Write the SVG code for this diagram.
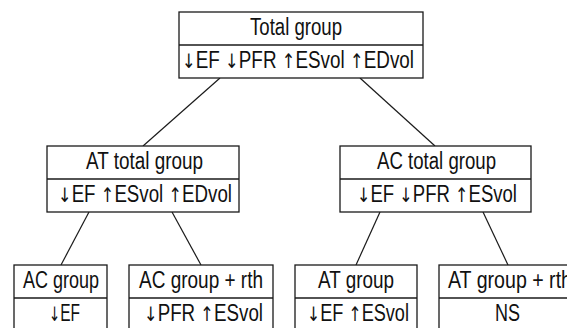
<svg xmlns="http://www.w3.org/2000/svg" width="567" height="328" viewBox="0 0 567 328">
<style>
.box{fill:#fff;stroke:#1a1a1a;stroke-width:1.3}
.div{stroke:#1a1a1a;stroke-width:1.3}
.con line{stroke:#1a1a1a;stroke-width:1.2}
text{font-family:"Liberation Sans",Arial,sans-serif;font-size:23px;fill:#111;text-anchor:middle}
.a{font-family:"DejaVu Sans",sans-serif;font-size:20px}
</style>
<rect width="567" height="328" fill="#fff"/>
<g class="con" id="connectors">
<line x1="220" y1="78" x2="143" y2="146"/>
<line x1="360" y1="78" x2="435" y2="146"/>
<line x1="89" y1="212" x2="61" y2="265"/>
<line x1="172" y1="212" x2="201" y2="265"/>
<line x1="380" y1="212" x2="356" y2="265"/>
<line x1="483" y1="212" x2="508" y2="265"/>
</g>
<g id="total">
<rect class="box" x="179" y="12" width="244" height="66"/>
<line class="div" x1="179" y1="45" x2="423" y2="45"/>
<text x="296" y="35" textLength="92" lengthAdjust="spacingAndGlyphs">Total group</text>
<text x="298" y="68" textLength="232" lengthAdjust="spacingAndGlyphs"><tspan class="a">↓</tspan>EF <tspan class="a">↓</tspan>PFR <tspan class="a">↑</tspan>ESvol <tspan class="a">↑</tspan>EDvol</text>
</g>
<g id="at-total">
<rect class="box" x="47" y="146" width="192" height="66"/>
<line class="div" x1="47" y1="179" x2="239" y2="179"/>
<text x="144.5" y="169" textLength="117" lengthAdjust="spacingAndGlyphs">AT total group</text>
<text x="145" y="202" textLength="174" lengthAdjust="spacingAndGlyphs"><tspan class="a">↓</tspan>EF <tspan class="a">↑</tspan>ESvol <tspan class="a">↑</tspan>EDvol</text>
</g>
<g id="ac-total">
<rect class="box" x="340" y="146" width="191" height="66"/>
<line class="div" x1="340" y1="179" x2="531" y2="179"/>
<text x="436.5" y="169" textLength="119" lengthAdjust="spacingAndGlyphs">AC total group</text>
<text x="437" y="202" textLength="160" lengthAdjust="spacingAndGlyphs"><tspan class="a">↓</tspan>EF <tspan class="a">↓</tspan>PFR <tspan class="a">↑</tspan>ESvol</text>
</g>
<g id="ac-group">
<rect class="box" x="14" y="265" width="93" height="80"/>
<line class="div" x1="14" y1="298" x2="107" y2="298"/>
<text x="61" y="288" textLength="76" lengthAdjust="spacingAndGlyphs">AC group</text>
<text x="64.5" y="321" textLength="31" lengthAdjust="spacingAndGlyphs"><tspan class="a">↓</tspan>EF</text>
</g>
<g id="ac-group-rth">
<rect class="box" x="129" y="265" width="144" height="80"/>
<line class="div" x1="129" y1="298" x2="273" y2="298"/>
<text x="201" y="288" textLength="124" lengthAdjust="spacingAndGlyphs">AC group + rth</text>
<text x="203.5" y="321" textLength="119" lengthAdjust="spacingAndGlyphs"><tspan class="a">↓</tspan>PFR <tspan class="a">↑</tspan>ESvol</text>
</g>
<g id="at-group">
<rect class="box" x="295" y="265" width="122" height="80"/>
<line class="div" x1="295" y1="298" x2="417" y2="298"/>
<text x="356" y="288" textLength="76" lengthAdjust="spacingAndGlyphs">AT group</text>
<text x="358" y="321" textLength="102" lengthAdjust="spacingAndGlyphs"><tspan class="a">↓</tspan>EF <tspan class="a">↑</tspan>ESvol</text>
</g>
<g id="at-group-rth">
<rect class="box" x="439" y="265" width="141" height="80"/>
<line class="div" x1="439" y1="298" x2="580" y2="298"/>
<text x="510" y="288" textLength="124" lengthAdjust="spacingAndGlyphs">AT group + rth</text>
<text x="507.5" y="321" textLength="25" lengthAdjust="spacingAndGlyphs">NS</text>
</g>
</svg>
